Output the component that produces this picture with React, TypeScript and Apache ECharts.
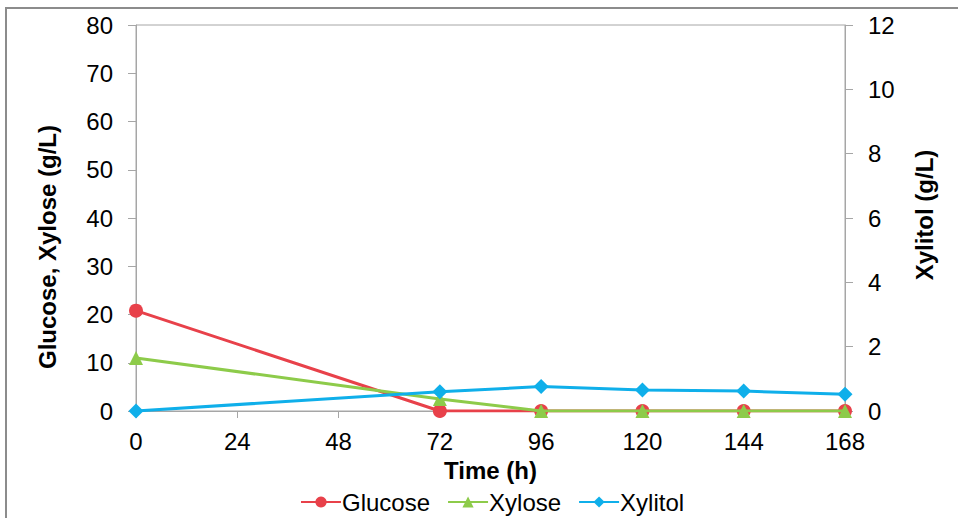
import React, { useEffect, useRef } from "react";
import * as echarts from "echarts";

// Fermentation time course (h)
const timePoints = [0, 72, 96, 120, 144, 168];
const glucose = [20.8, 0, 0, 0, 0, 0];
const xylose = [11, 2.5, 0, 0, 0, 0];
const xylitol = [0, 0.6, 0.76, 0.65, 0.62, 0.52];

const FONT = "'Liberation Sans', Arial, sans-serif";
const AXIS_GRAY = "#A6A6A6";
const FS = 24;

const pairs = (ys: number[]) => timePoints.map((t, i) => [t, ys[i]]);

export default function App() {
  const ref = useRef<HTMLDivElement>(null);

  useEffect(() => {
    if (!ref.current) return;
    const chart = echarts.init(ref.current, undefined, { renderer: "svg" });
    const lineW = 3;
    chart.setOption({
      animation: false,
      backgroundColor: "#fff",
      textStyle: { fontFamily: FONT },
      grid: { left: 136, right: 113, top: 25, bottom: 107, show: true, borderColor: AXIS_GRAY, borderWidth: 1 },
      legend: {
        top: 489,
        left: 300,
        padding: 0,
        itemWidth: 40,
        itemHeight: 14,
        itemGap: 17,
        textStyle: { fontSize: FS, lineHeight: 26, color: "#000", fontFamily: FONT, padding: [0, 0, 0, -4] },
        data: ["Glucose", "Xylose", "Xylitol"],
      },
      xAxis: {
        type: "value",
        min: 0,
        max: 168,
        interval: 24,
        name: "Time (h)",
        nameLocation: "middle",
        nameGap: 47,
        nameTextStyle: { fontSize: FS, fontWeight: "bold", color: "#000", fontFamily: FONT },
        axisLine: { lineStyle: { color: AXIS_GRAY } },
        axisTick: { show: true, length: 7, lineStyle: { color: AXIS_GRAY } },
        axisLabel: { fontSize: FS, color: "#000", margin: 18, fontFamily: FONT },
        splitLine: { show: false },
      },
      yAxis: [
        {
          type: "value",
          min: 0,
          max: 80,
          interval: 10,
          position: "left",
          axisLine: { show: true, lineStyle: { color: AXIS_GRAY } },
          axisTick: { show: true, length: 8, lineStyle: { color: AXIS_GRAY } },
          axisLabel: { fontSize: FS, color: "#000", margin: 23, fontFamily: FONT },
          splitLine: { show: false },
        },
        {
          type: "value",
          min: 0,
          max: 12,
          interval: 2,
          position: "right",
          axisLine: { show: true, lineStyle: { color: AXIS_GRAY } },
          axisTick: { show: true, length: 8, lineStyle: { color: AXIS_GRAY } },
          axisLabel: { fontSize: FS, color: "#000", margin: 23, fontFamily: FONT },
          splitLine: { show: false },
        },
      ],
      graphic: [
        {
          type: "rect",
          silent: true,
          shape: { x: 6, y: 8, width: 960, height: 520 },
          style: { fill: "none", stroke: "#8C8C8C", lineWidth: 2 },
          z: -10,
        },
        {
          type: "text",
          x: 47,
          y: 247,
          rotation: Math.PI / 2,
          style: {
            text: "Glucose, Xylose (g/L)",
            fontSize: FS,
            fontWeight: "bold",
            fontFamily: FONT,
            fill: "#000",
            align: "center",
            verticalAlign: "middle",
          },
        },
        {
          type: "text",
          x: 924,
          y: 215,
          rotation: Math.PI / 2,
          style: {
            text: "Xylitol (g/L)",
            fontSize: FS,
            fontWeight: "bold",
            fontFamily: FONT,
            fill: "#000",
            align: "center",
            verticalAlign: "middle",
          },
        },
      ],
      series: [
        {
          name: "Glucose",
          type: "line",
          yAxisIndex: 0,
          data: pairs(glucose),
          symbol: "circle",
          symbolSize: 14,
          lineStyle: { color: "#E8414A", width: lineW },
          itemStyle: { color: "#E8414A" },
          z: 2,
        },
        {
          name: "Xylose",
          type: "line",
          yAxisIndex: 0,
          data: pairs(xylose),
          symbol: "triangle",
          symbolSize: 14,
          lineStyle: { color: "#8DCB4A", width: lineW },
          itemStyle: { color: "#8DCB4A" },
          z: 3,
        },
        {
          name: "Xylitol",
          type: "line",
          yAxisIndex: 1,
          data: pairs(xylitol),
          symbol: "diamond",
          symbolSize: 15,
          lineStyle: { color: "#0FAFEA", width: lineW },
          itemStyle: { color: "#0FAFEA" },
          z: 4,
        },
      ],
    });
    return () => chart.dispose();
  }, []);

  return (
    <div
      ref={ref}
      style={{ position: "fixed", left: 0, top: 0, width: 958, height: 518 }}
    />
  );
}
